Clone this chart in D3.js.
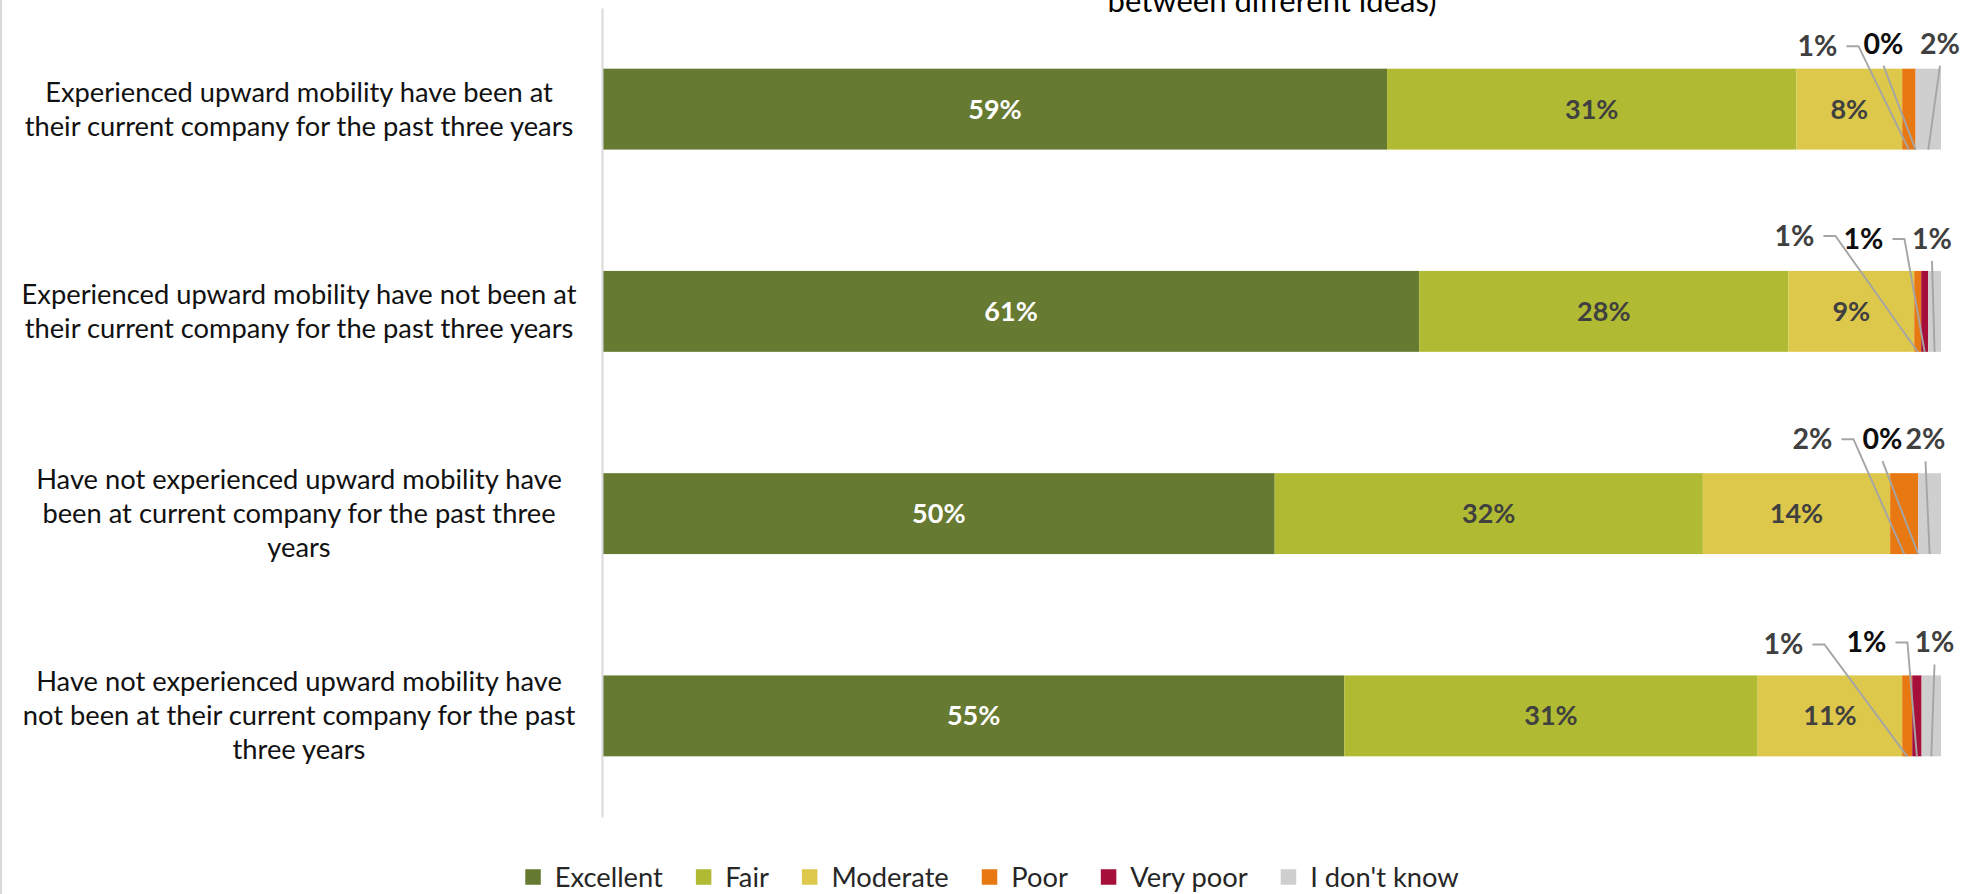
<!DOCTYPE html>
<html><head><meta charset="utf-8">
<script src="https://cdn.jsdelivr.net/npm/d3@7"></script>
<style>html,body{margin:0;padding:0;background:#fff;} svg{display:block;}</style>
</head><body>
<script>
// ---------------- DATA ----------------
const categories = [
  "Experienced upward mobility have been at\ntheir current company for the past three years",
  "Experienced upward mobility have not been at\ntheir current company for the past three years",
  "Have not experienced upward mobility have\nbeen at current company for the past three\nyears",
  "Have not experienced upward mobility have\nnot been at their current company for the past\nthree years"
];
const seriesNames = ["Excellent", "Fair", "Moderate", "Poor", "Very poor", "I don't know"];
const excellent = [58.6, 61.0, 50.2, 55.4];
const fair      = [30.6, 27.6, 32.0, 30.9];
const moderate  = [7.9, 9.4, 14.0, 10.8];
const poor      = [1.0, 0.52, 2.1, 0.75];
const veryPoor  = [0.0, 0.52, 0.0, 0.7];
const dontKnow  = [1.9, 0.96, 1.7, 1.45];
const titleText = "between different ideas)";

// ---------------- STYLE / LAYOUT ----------------
const colors = ["#667a31", "#b0bb33", "#ddc84b", "#e77812", "#a50f3a", "#d0cfd0"];
const FONT = "Lato, 'Open Sans', sans-serif";
const W = 1969, H = 894;
// outside-label offsets: [dx from 100% end, dy baseline from bar top] for Poor, Very poor, I don't know
const outsideLayout = [
  [[-123.5, -12.5], [-57.5, -15], [-1, -15]],
  [[-146.5, -25], [-77.5, -22], [-9, -22]],
  [[-128.5, -24], [-58.5, -24], [-15.5, -24]],
  [[-157.5, -21], [-74.5, -23], [-6.5, -23]]
];

const svg = d3.select("body").append("svg").attr("width", W).attr("height", H)
  .style("font-family", FONT);

// chart border (left edge visible)
svg.append("line").attr("x1", 1).attr("x2", 1).attr("y1", 0).attr("y2", H)
  .attr("stroke", "#d9d9d9").attr("stroke-width", 2);

const x = d3.scaleLinear().domain([0, 100]).range([603, 1941]);
const y = d3.scaleBand().domain(categories).range([8, 817]).paddingInner(0.6).paddingOuter(0.3);

const rows = categories.map((c, i) => ({
  cat: c, vals: [excellent[i], fair[i], moderate[i], poor[i], veryPoor[i], dontKnow[i]]
}));
const series = d3.stack().keys(d3.range(6)).value((d, k) => d.vals[k])(rows);

// title (cut at top, as in the original)
svg.append("text").attr("x", (x(0) + x(100)) / 2).attr("y", 12)
  .attr("text-anchor", "middle").attr("font-size", 31).attr("fill", "#000")
  .text(titleText);

// bars
const g = svg.append("g");
series.forEach((s, k) => {
  g.selectAll(null).data(s).enter().append("rect")
    .attr("x", d => x(d[0]))
    .attr("y", d => y(d.data.cat))
    .attr("width", d => Math.max(0, x(d[1]) - x(d[0])))
    .attr("height", y.bandwidth())
    .attr("fill", colors[k]);
});

// axis line
const axis = d3.axisLeft(y).tickSize(0).tickSizeOuter(0).tickFormat("");
const axG = svg.append("g").attr("transform", "translate(602,0)").call(axis);
axG.select(".domain").attr("stroke", "#d9d9d9").attr("stroke-width", 2);

// category labels
const lineH = 34;
categories.forEach(c => {
  const lines = c.split("\n");
  const cy = y(c) + y.bandwidth() / 2;
  const t = svg.append("text").attr("text-anchor", "middle").attr("font-size", 27.3).attr("fill", "#111111");
  lines.forEach((ln, i) => {
    t.append("tspan").attr("x", 299)
      .attr("y", cy + (i - (lines.length - 1) / 2) * lineH)
      .attr("dy", "0.35em").text(ln);
  });
});

const fmt = v => d3.format(".0f")(v) + "%";

// inside labels for first three series
series.slice(0, 3).forEach((s, k) => {
  svg.selectAll(null).data(s).enter().append("text")
    .attr("x", d => (x(d[0]) + x(d[1])) / 2)
    .attr("y", d => y(d.data.cat) + y.bandwidth() / 2)
    .attr("dy", "0.35em").attr("text-anchor", "middle")
    .attr("font-size", 27).attr("font-weight", "bold")
    .attr("fill", k === 0 ? "#ffffff" : "#404040")
    .text(d => fmt(d[1] - d[0]));
});

// outside labels with leader lines for small series
const leaderG = svg.append("g");
series.slice(3).forEach((s, j) => {
  s.forEach((d, i) => {
    const top = y(d.data.cat), bottom = top + y.bandwidth();
    const [dx, dy] = outsideLayout[i][j];
    const cx = x(100) + dx, base = top + dy;
    const t = svg.append("text").attr("x", cx).attr("y", base).attr("text-anchor", "middle")
      .attr("font-size", 28.5).attr("font-weight", "bold")
      .attr("fill", j === 1 ? "#0d0d0d" : "#404040")
      .text(fmt(d[1] - d[0]));
    const w = t.node().getComputedTextLength();
    const tx = (x(d[0]) + x(d[1])) / 2;
    const right = cx + w / 2;
    let pts;
    if (tx - right > 25) {
      const ly = base - 10;
      pts = [[right + 9, ly], [right + 21, ly], [tx, bottom]];
    } else {
      pts = [[cx, base + 12], [tx, bottom]];
    }
    leaderG.append("path").attr("d", d3.line()(pts)).attr("fill", "none")
      .attr("stroke", "#a5a5a5").attr("stroke-width", 1.9);
  });
});

// legend
const legG = svg.append("g");
const sq = 15.5, gapText = 14, gapItem = 33, legY = 877;
let cur = 0;
seriesNames.forEach((n, k) => {
  const it = legG.append("g");
  it.append("rect").attr("x", 0).attr("y", legY - sq / 2).attr("width", sq).attr("height", sq).attr("fill", colors[k]);
  const t = it.append("text").attr("x", sq + gapText).attr("y", legY).attr("dy", "0.35em")
    .attr("font-size", 27.3).attr("fill", "#262626").text(n);
  const w = sq + gapText + t.node().getComputedTextLength();
  it.attr("transform", `translate(${cur},0)`);
  cur += w + gapItem;
});
const total = cur - gapItem;
legG.attr("transform", `translate(${992 - total / 2},0)`);
</script>
</body></html>
